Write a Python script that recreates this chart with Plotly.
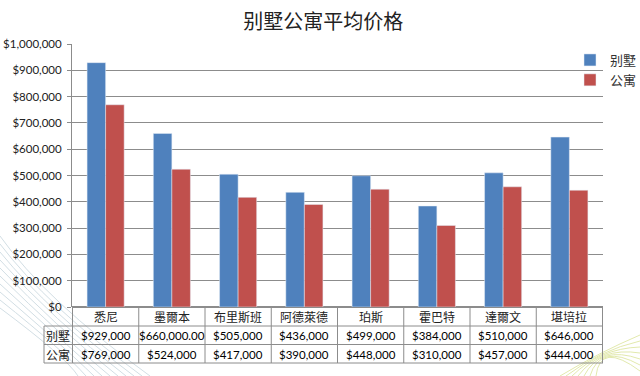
import plotly.graph_objects as go

categories = ["悉尼", "墨爾本", "布里斯班", "阿德萊德", "珀斯", "霍巴特", "達爾文", "堪培拉"]
villa = [929000, 660000, 505000, 436000, 499000, 384000, 510000, 646000]
apartment = [769000, 524000, 417000, 390000, 448000, 310000, 457000, 444000]
villa_labels = ["$929,000", "$660,000.00", "$505,000", "$436,000", "$499,000", "$384,000", "$510,000", "$646,000"]
apartment_labels = ["$769,000", "$524,000", "$417,000", "$390,000", "$448,000", "$310,000", "$457,000", "$444,000"]
series_names = ["别墅", "公寓"]
title = "别墅公寓平均价格"

W, H = 640, 376
L, R, T, B = 72, 603, 44, 307
def px(x):
    return (x - L) / (R - L)
def py(y):
    return (B - y) / (B - T)

FONT = "Lato, 'Noto Sans CJK SC', sans-serif"
CJK = "'Noto Sans CJK SC', sans-serif"
BLUE = "#4F81BD"
RED = "#C0504D"
GRID = "#8c8c8c"

fig = go.Figure()
fig.add_trace(go.Bar(x=categories, y=villa, name=series_names[0], marker_color=BLUE))
fig.add_trace(go.Bar(x=categories, y=apartment, name=series_names[1], marker_color=RED))

shapes = []
annotations = []
line = dict(color=GRID, width=1)

# table rows
row_y = [316.5, 335.3, 354]
for i, c in enumerate(categories):
    annotations.append(dict(x=i, y=py(row_y[0]), xref="x", yref="paper", text=c, showarrow=False,
                            font=dict(family=CJK, size=12, color="#222"), yanchor="middle"))
    annotations.append(dict(x=i, y=py(row_y[1]), xref="x", yref="paper", text=villa_labels[i], showarrow=False,
                            font=dict(family=FONT, size=11.5, color="#000"), yanchor="middle"))
    annotations.append(dict(x=i, y=py(row_y[2]), xref="x", yref="paper", text=apartment_labels[i], showarrow=False,
                            font=dict(family=FONT, size=11.5, color="#000"), yanchor="middle"))
for j, nm in enumerate(series_names):
    annotations.append(dict(x=px(58), y=py(row_y[j + 1]), xref="paper", yref="paper", text=nm, showarrow=False,
                            font=dict(family=CJK, size=12, color="#222"), yanchor="middle", xanchor="center"))

# vertical lines of table
for k in range(len(categories) + 1):
    shapes.append(dict(type="line", xref="x", yref="paper", x0=k - 0.5, x1=k - 0.5,
                       y0=py(307), y1=py(363), line=line))
shapes.append(dict(type="line", xref="paper", yref="paper", x0=px(44), x1=px(44),
                   y0=py(326), y1=py(363), line=line))
for yy in [326, 344.5, 363]:
    shapes.append(dict(type="line", xref="paper", yref="paper", x0=px(44), x1=1,
                       y0=py(yy), y1=py(yy), line=line))

# faint background swooshes (decoration)
for k in range(10):
    o = k * 8
    shapes.append(dict(type="path", xref="paper", yref="paper", layer="below",
                       path=f"M {px(0)},{py(236 + o)} Q {px(45 + o*0.3)},{py(300 + o*0.8)} {px(150 - o)},{py(376)}",
                       line=dict(color="#d2dee4", width=1)))
for k in range(7):
    o = k * 6
    shapes.append(dict(type="path", xref="paper", yref="paper", layer="below",
                       path=f"M {px(560 + o)},{py(376)} Q {px(600)},{py(352 - o*0.3)} {px(640)},{py(335 + o)}",
                       line=dict(color="#e2e9ad", width=1)))

fig.update_layout(
    width=W, height=H,
    margin=dict(l=L, r=W - R, t=T, b=H - B, pad=0, autoexpand=False),
    paper_bgcolor="white", plot_bgcolor="white",
    title=dict(text=title, x=0.505, xanchor="center", y=1 - 22 / H, yanchor="middle",
               font=dict(family=CJK, size=20, color="#222")),
    barmode="group", bargap=0.44, bargroupgap=0,
    showlegend=True,
    legend=dict(xref="container", yref="container", x=570 / W, y=1 - 45 / H, xanchor="left", yanchor="top",
                font=dict(family=CJK, size=13, color="#333"),
                itemwidth=30, tracegroupgap=4, bgcolor="rgba(0,0,0,0)"),
    xaxis=dict(showticklabels=False, showgrid=False, showline=False, zeroline=False, ticks=""),
    yaxis=dict(range=[0, 1000000], dtick=100000, tickprefix="$", tickformat=",d", automargin=False,
               showgrid=True, gridcolor=GRID, gridwidth=1, zeroline=True, zerolinecolor=GRID,
               showline=True, linecolor=GRID, linewidth=1, ticks="outside", ticklen=4, tickcolor=GRID,
               ticklabelstandoff=3,
               tickfont=dict(family=FONT, size=11.5, color="#222")),
    shapes=shapes, annotations=annotations,
)

fig.write_html("out.html", config={"displayModeBar": False},
               post_script="document.body.style.margin='0';document.body.style.padding='0';")
